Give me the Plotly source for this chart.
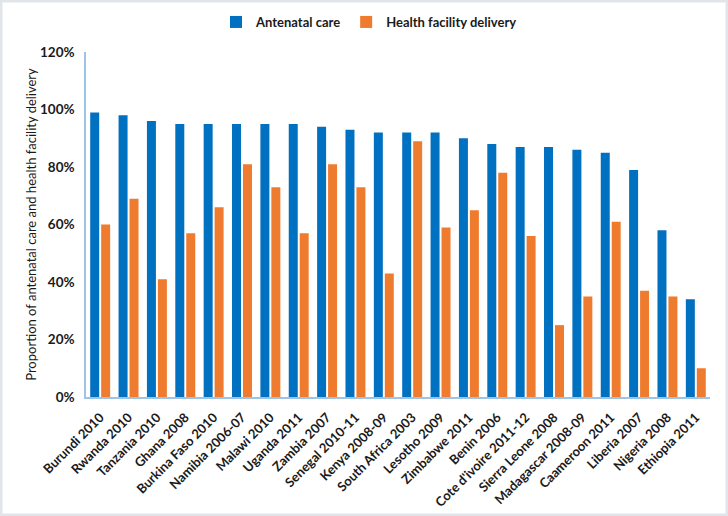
import plotly.graph_objects as go

categories = ["Burundi 2010", "Rwanda 2010", "Tanzania 2010", "Ghana 2008",
              "Burkina Faso 2010", "Namibia 2006-07", "Malawi 2010", "Uganda 2011",
              "Zambia 2007", "Senegal 2010-11", "Kenya 2008-09", "South Africa 2003",
              "Lesotho 2009", "Zimbabwe 2011", "Benin 2006", "Cote d'ivoire 2011-12",
              "Sierra Leone 2008", "Madagascar 2008-09", "Caameroon 2011", "Liberia 2007",
              "Nigeria 2008", "Ethiopia 2011"]
antenatal = [99, 98, 96, 95, 95, 95, 95, 95, 94, 93, 92, 92, 92, 90, 88, 87, 87, 86, 85, 79, 58, 34]
facility = [60, 69, 41, 57, 66, 81, 73, 57, 81, 73, 43, 89, 59, 65, 78, 56, 25, 35, 61, 37, 35, 10]
y_ticks = [0, 20, 40, 60, 80, 100, 120]
y_labels = ["0%", "20%", "40%", "60%", "80%", "100%", "120%"]

FONT = "Lato"
W, H = 728, 516
ML, MR, MT, MB = 86, 18, 52, 119
PW, PH = W - ML - MR, H - MT - MB

fig = go.Figure()
fig.add_trace(go.Bar(x=categories, y=antenatal, name="Antenatal care",
                     marker=dict(color="#0070C0", line=dict(width=0))))
fig.add_trace(go.Bar(x=categories, y=facility, name="Health facility delivery",
                     marker=dict(color="#EF7B2F", line=dict(width=0))))

fig.update_layout(
    width=W, height=H,
    margin=dict(l=ML, r=MR, t=MT, b=MB, autoexpand=False),
    paper_bgcolor="white", plot_bgcolor="white",
    barmode="group", bargap=0.227, bargroupgap=0.18,
    font=dict(family=FONT, size=12, color="#1a1a1a", weight="bold"),
    legend=dict(orientation="h", x=0.4535, xanchor="center", y=1 + 30 / PH, yanchor="middle",
                font=dict(family=FONT, size=13, color="#1a1a1a", weight="bold"),
                itemwidth=30, traceorder="normal"),
    xaxis=dict(tickangle=-45, showline=True, linecolor="#9DC3E6", linewidth=1.5,
               ticks="", showgrid=False, ticklabelstandoff=6,
               tickfont=dict(family=FONT, size=13, weight="bold")),
    yaxis=dict(range=[0, 120], tickvals=y_ticks, ticktext=y_labels, showline=True,
               linecolor="#9DC3E6", linewidth=1.5, showgrid=False, zeroline=False,
               ticks="", ticklen=0, ticklabelstandoff=7,
               tickfont=dict(family=FONT, size=13.5, weight="bold"),
               title=dict(text="Proportion of antenatal care and health facility delivery",
                          font=dict(family=FONT, size=13, weight="normal"), standoff=0)),
    shapes=[dict(type="rect", xref="paper", yref="paper",
                 x0=-ML / PW, x1=1 + MR / PW, y0=-MB / PH, y1=1 + MT / PH,
                 line=dict(color="#E1E5EA", width=5), fillcolor="rgba(0,0,0,0)", layer="below")],
)

fig.write_html("out.html", config={"displayModeBar": False},
               post_script="document.body.style.margin='0';")
